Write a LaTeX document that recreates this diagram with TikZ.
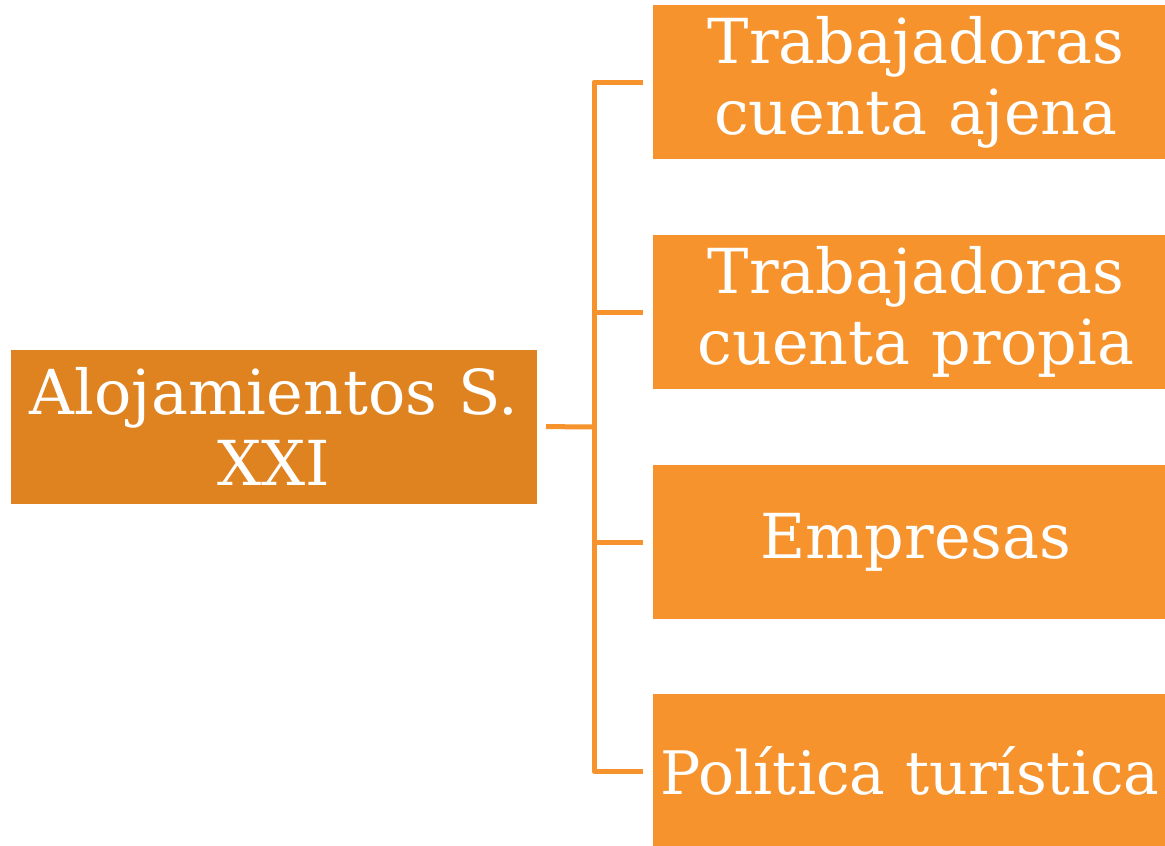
\documentclass[tikz,border=0pt]{standalone}
\usepackage{fontspec}
\setmainfont{DejaVu Serif}
\definecolor{rootorange}{HTML}{DF8220}
\definecolor{leaforange}{HTML}{F6932D}
\tikzset{
  box/.style={fill=#1, text=white, minimum width=526pt, minimum height=154pt,
    text width=520pt, align=center, inner sep=3pt,
    font=\fontsize{62pt}{71pt}\selectfont},
  link/.style={draw=leaforange, line width=5pt, line join=round}
}
\begin{document}
\begin{tikzpicture}[x=1pt,y=-1pt]
\useasboundingbox (0,0) rectangle (1165,846);
\clip (0,0) rectangle (1165,846);
\node[box=rootorange] (root) at (274,426.5) {Alojamientos S.\\XXI};
\node[box=leaforange] (ajena) at (916,82) {Trabajadoras\\cuenta ajena};
\node[box=leaforange] (propia) at (916,312) {Trabajadoras\\cuenta propia};
\node[box=leaforange] (empresas) at (916,542) {Empresas};
\node[box=leaforange, font=\fontsize{60pt}{71pt}\selectfont] (politica) at (916,771) {\hspace*{-12pt}Política turística};
\coordinate (fork) at (594,427);
\draw[link, shorten <=9pt] (root.east) -- (fork);
\foreach \leaf in {ajena,propia,empresas,politica}
  \draw[link, shorten >=10pt] (fork) |- (\leaf.west);
\end{tikzpicture}
\end{document}
